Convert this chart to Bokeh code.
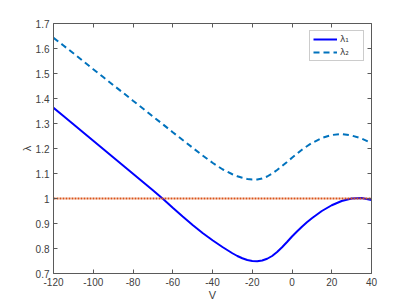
from bokeh.plotting import figure
from bokeh.models import LinearAxis, FixedTicker, CustomJSTickFormatter, Range1d, Legend, LegendItem
from bokeh.embed import file_html
from bokeh.resources import INLINE

V = [-120, -115, -110, -105, -100, -95, -90, -85, -80, -75, -70, -65, -60, -55, -50, -45,
     -40, -35, -30, -27.5, -25, -22.5, -20, -17.5, -15, -12.5, -10, -7.5, -5, -2.5,
     0, 2.5, 5, 7.5, 10, 15, 20, 25, 30, 35, 40]
lambda1 = [1.363, 1.330, 1.297, 1.264, 1.231, 1.198, 1.165, 1.132, 1.099, 1.066, 1.033, 0.999,
           0.963, 0.928, 0.894, 0.862, 0.833, 0.806, 0.781, 0.770, 0.761, 0.754, 0.750, 0.749,
           0.752, 0.759, 0.770, 0.786, 0.805, 0.826, 0.848, 0.868, 0.887, 0.905, 0.921,
           0.950, 0.973, 0.990, 1.000, 1.002, 0.994]
lambda2 = [1.643, 1.612, 1.581, 1.549, 1.517, 1.486, 1.454, 1.423, 1.391, 1.360, 1.328, 1.297,
           1.265, 1.234, 1.203, 1.172, 1.143, 1.117, 1.097, 1.089, 1.083, 1.078, 1.076, 1.076,
           1.080, 1.088, 1.100, 1.114, 1.130, 1.146, 1.163, 1.179, 1.195, 1.209, 1.222,
           1.242, 1.254, 1.258, 1.252, 1.240, 1.222]
ones = [1.0] * len(V)

x_ticks = [-120, -100, -80, -60, -40, -20, 0, 20, 40]
y_ticks = [0.7, 0.8, 0.9, 1.0, 1.1, 1.2, 1.3, 1.4, 1.5, 1.6, 1.7]

FONT = "Liberation Sans"
AXC = "#5a5a5a"
TXC = "#404040"

p = figure(frame_width=318, frame_height=250, output_backend="svg", toolbar_location=None,
           x_range=Range1d(-120, 40), y_range=Range1d(0.7, 1.7),
           min_border_left=53, min_border_right=37, min_border_top=23, min_border_bottom=32,
           x_axis_label="V", y_axis_label="λ")
p.outline_line_color = None
p.xgrid.visible = False
p.ygrid.visible = False

fmt = CustomJSTickFormatter(code="return String(Math.round(tick*10)/10)")

def style(ax, ticks, show_labels=True, label_standoff=0):
    ax.ticker = FixedTicker(ticks=ticks)
    ax.formatter = fmt
    ax.major_tick_in = 4
    ax.major_tick_out = 0
    ax.minor_tick_line_color = None
    ax.axis_line_color = AXC
    ax.major_tick_line_color = AXC
    ax.axis_line_width = 1
    ax.major_label_text_font = FONT
    ax.axis_label_text_font = FONT
    ax.axis_label_text_color = TXC
    ax.axis_label_text_font_style = "normal"
    ax.major_label_text_font_size = "10px"
    if show_labels:
        ax.major_label_text_color = TXC
        ax.axis_label_text_font_size = "11px"
        ax.major_label_standoff = 4
        ax.axis_label_standoff = label_standoff
    else:
        ax.major_label_text_color = None
        ax.major_label_standoff = 0

style(p.xaxis[0], x_ticks, label_standoff=0)
style(p.yaxis[0], y_ticks, label_standoff=0)

top = LinearAxis()
style(top, x_ticks, False)
p.add_layout(top, "above")
right = LinearAxis()
style(right, y_ticks, False)
p.add_layout(right, "right")

r1 = p.line(V, lambda1, line_color="#0000FF", line_width=2)
r2 = p.line(V, lambda2, line_color="#0072BD", line_width=2, line_dash="6 4")
p.line(V, ones, line_color="#D95319", line_width=2, line_dash="2 1")

legend = Legend(items=[LegendItem(label="λ₁", renderers=[r1]),
                       LegendItem(label="λ₂", renderers=[r2])],
                location="top_right")
legend.label_text_font = "DejaVu Sans"
legend.label_text_font_size = "9px"
legend.label_text_color = TXC
legend.glyph_width = 24
legend.glyph_height = 10
legend.label_height = 10
legend.label_standoff = 3
legend.spacing = 3
legend.padding = 3
legend.margin = 7
legend.border_line_color = "#999999"
legend.border_line_width = 1
legend.background_fill_alpha = 1
p.add_layout(legend)

open("out.html", "w").write(file_html(p, INLINE))
